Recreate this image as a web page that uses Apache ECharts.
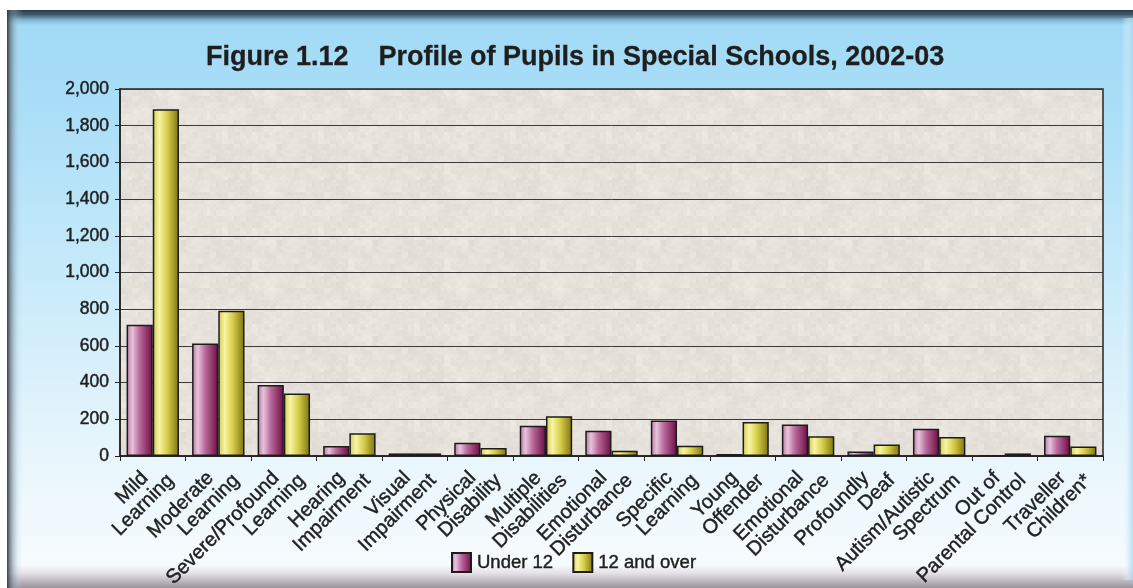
<!DOCTYPE html>
<html>
<head>
<meta charset="utf-8">
<title>Profile of Pupils in Special Schools, 2002-03</title>
<script src="https://cdn.jsdelivr.net/npm/echarts@6/dist/echarts.min.js"></script>
<style>
  html, body { margin: 0; padding: 0; background: #ffffff; }
  #chart { width: 1133px; height: 588px; }
</style>
</head>
<body>
<div id="chart"></div>
<script>
// Pupil categories (two-line labels on the x axis)
const categories = [
  'Mild\nLearning',
  'Moderate\nLearning',
  'Severe/Profound\nLearning',
  'Hearing\nImpairment',
  'Visual\nImpairment',
  'Physical\nDisability',
  'Multiple\nDisabilities',
  'Emotional\nDisturbance',
  'Specific\nLearning',
  'Young\nOffender',
  'Emotional\nDisturbance',
  'Profoundly\nDeaf',
  'Autism/Autistic\nSpectrum',
  'Out of\nParental Control',
  'Traveller\nChildren*'
];

// Number of pupils by age group
const under12 = [715, 613, 387, 55, 14, 72, 165, 138, 194, 11, 172, 24, 148, 4, 111];
const over12 = [1890, 791, 341, 124, 14, 43, 217, 29, 56, 185, 107, 62, 104, 14, 52];

// Value axis
const yMin = 0;
const yMax = 2000;
const yStep = 200;

const seriesNames = ['Under 12', '12 and over'];

const FONT = "'Liberation Sans', Arial, Helvetica, sans-serif";
const INK = '#1e1e1e';

const G = echarts.graphic.LinearGradient;

// Stone-like paper texture for the plotting area: a small tile of blotchy
// beige cells, shaded with a deterministic integer hash.
function makeStoneTile() {
  const size = 96, cell = 3;
  const c = document.createElement('canvas');
  c.width = size; c.height = size;
  const ctx = c.getContext('2d');
  const hash = (x, y) => {
    let h = (x * 374761393 + y * 668265263) | 0;
    h = (h ^ (h >>> 13)) * 1274126177 | 0;
    return ((h ^ (h >>> 16)) >>> 0) / 4294967295;
  };
  const n = size / cell;
  for (let i = 0; i < n; i++) {
    for (let j = 0; j < n; j++) {
      const a = hash(i, j), b = hash(i >> 1, j >> 1), d = hash(i >> 2, j >> 2);
      const v = (a - 0.5) * 6 + (b - 0.5) * 6 + (d - 0.5) * 6;
      const r = Math.round(231 + v), g = Math.round(227 + v), bl = Math.round(220 + v);
      ctx.fillStyle = 'rgb(' + r + ',' + g + ',' + bl + ')';
      ctx.fillRect(i * cell, j * cell, cell, cell);
    }
  }
  return c;
}

const purpleFill = new G(0, 0, 1, 0, [
  { offset: 0, color: '#b7739c' },
  { offset: 0.22, color: '#e6c3dc' },
  { offset: 0.5, color: '#b9689a' },
  { offset: 1, color: '#6d0b43' }
]);
const yellowFill = new G(0, 0, 1, 0, [
  { offset: 0, color: '#cfc85a' },
  { offset: 0.25, color: '#f9f4a2' },
  { offset: 0.55, color: '#d6ce4a' },
  { offset: 1, color: '#7d7210' }
]);

// slightly heavier text strokes, like the printed figure
const heavy = { textBorderColor: INK, textBorderWidth: 0.45 };

// category label text: the upper line sits a little back from the lower one
const catText = Object.assign({ fontFamily: FONT, fontSize: 20, lineHeight: 20, color: INK }, heavy);

const chart = echarts.init(document.getElementById('chart'), null, { renderer: 'canvas' });

const option = {
  backgroundColor: '#ffffff',
  animation: false,
  graphic: [
    // framed panel: dark top edge fading into pale sky blue, lightening downward
    {
      type: 'rect', z: -100, silent: true,
      shape: { x: 7, y: 10, width: 1126, height: 578 },
      style: {
        fill: new G(0, 0, 0, 1, [
          { offset: 0, color: '#2b3a47' },
          { offset: 0.008, color: '#3f5a6c' },
          { offset: 0.017, color: '#7fb2cc' },
          { offset: 0.026, color: '#a2daf5' },
          { offset: 0.15, color: '#a8ddf7' },
          { offset: 0.45, color: '#c6eafa' },
          { offset: 0.75, color: '#e6f5fc' },
          { offset: 0.96, color: '#f7fbfe' },
          { offset: 0.975, color: '#e4e0e6' },
          { offset: 0.988, color: '#bdb6be' },
          { offset: 1, color: '#9a949c' }
        ])
      }
    },
    // shaded left edge of the panel
    {
      type: 'rect', z: -99, silent: true,
      shape: { x: 7, y: 10, width: 16, height: 578 },
      style: {
        fill: new G(0, 0, 1, 0, [
          { offset: 0, color: 'rgba(50,55,65,0.95)' },
          { offset: 0.3, color: 'rgba(110,125,140,0.6)' },
          { offset: 0.7, color: 'rgba(170,200,220,0.2)' },
          { offset: 1, color: 'rgba(200,230,245,0)' }
        ])
      }
    },
    // soft highlight strip on the right edge
    {
      type: 'rect', z: -99, silent: true,
      shape: { x: 1122, y: 18, width: 11, height: 562 },
      style: {
        fill: new G(0, 0, 1, 0, [
          { offset: 0, color: 'rgba(255,255,255,0)' },
          { offset: 0.6, color: 'rgba(200,232,248,0.6)' },
          { offset: 1, color: 'rgba(170,215,240,0.8)' }
        ])
      }
    }
  ],
  title: {
    text: 'Figure 1.12    Profile of Pupils in Special Schools, 2002-03',
    left: 206,
    top: 44,
    padding: 0,
    textStyle: {
      fontFamily: FONT,
      fontSize: 27,
      fontWeight: 'bold',
      color: INK,
      textBorderColor: INK,
      textBorderWidth: 0.3
    }
  },
  legend: {
    data: seriesNames,
    left: 446,
    top: 547,
    itemWidth: 19,
    itemHeight: 19,
    itemGap: 19,
    icon: 'rect',
    textStyle: Object.assign({ fontFamily: FONT, fontSize: 18.5, color: INK, padding: [0, 0, 0, 1] }, heavy)
  },
  grid: {
    left: 120,
    right: 30,
    top: 89,
    bottom: 132,
    outerBoundsMode: 'none',
    containLabel: false,
    show: true,
    backgroundColor: { image: makeStoneTile(), repeat: 'repeat' },
    borderColor: '#262626',
    borderWidth: 1.5
  },
  xAxis: {
    type: 'category',
    data: categories,
    axisLine: { show: true, lineStyle: { color: '#202020', width: 1.5 } },
    axisTick: { show: true, length: 5, lineStyle: { color: '#202020', width: 1 } },
    axisLabel: {
      interval: 0,
      rotate: 45,
      margin: -5,
      verticalAlign: 'top',
      padding: [1.5, 6, 0, 0],
      formatter: v => {
        const lines = v.split('\n');
        return '{a|' + lines[0] + '}\n{b|' + lines[1] + '}';
      },
      rich: {
        a: Object.assign({ padding: [0, 16.5, 0, 0] }, catText),
        b: Object.assign({}, catText)
      }
    }
  },
  yAxis: {
    type: 'value',
    min: yMin,
    max: yMax,
    interval: yStep,
    axisLine: { show: true, lineStyle: { color: '#202020', width: 1.5 } },
    axisTick: { show: true, length: 5, lineStyle: { color: '#202020', width: 1 } },
    splitLine: { show: true, lineStyle: { color: '#3a3a3a', width: 1 } },
    axisLabel: Object.assign({
      margin: 11,
      fontFamily: FONT,
      fontSize: 17.5,
      color: INK,
      formatter: v => v.toLocaleString('en-US')
    }, heavy)
  },
  series: [
    {
      name: seriesNames[0],
      type: 'bar',
      data: under12,
      barWidth: '40%',
      barGap: '0%',
      itemStyle: { color: purpleFill, borderColor: '#1c1c1c', borderWidth: 1.5 }
    },
    {
      name: seriesNames[1],
      type: 'bar',
      data: over12,
      barWidth: '40%',
      barGap: '0%',
      itemStyle: { color: yellowFill, borderColor: '#1c1c1c', borderWidth: 1.5 }
    }
  ]
};

chart.setOption(option);
</script>
</body>
</html>
